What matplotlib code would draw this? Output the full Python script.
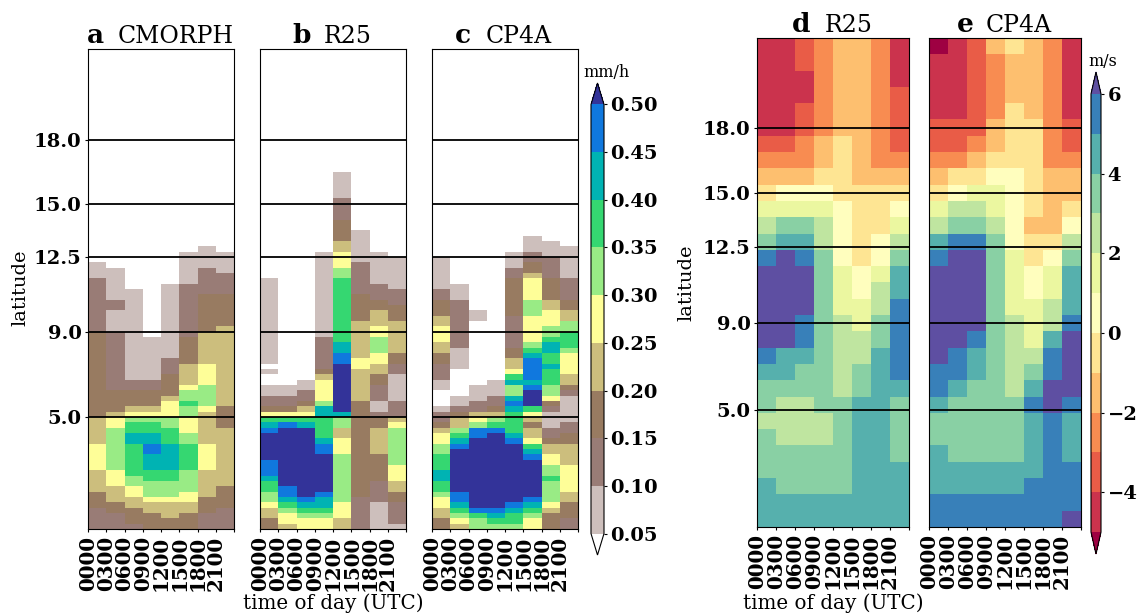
# 日変化のパネル図 (降水 a-c, 風 d-e)
import numpy as np
import matplotlib
matplotlib.use('Agg')
import matplotlib.pyplot as plt
from matplotlib.colors import BoundaryNorm

plt.rcParams['font.family'] = ['DejaVu Serif']

W, H = 1140, 613
hours = ['0000', '0300', '0600', '0900', '1200', '1500', '1800', '2100']
lat_ticks = [5.0, 9.0, 12.5, 15.0, 18.0]
rain_levels = [0.05, 0.10, 0.15, 0.20, 0.25, 0.30, 0.35, 0.40, 0.45, 0.50]
wind_levels = [-5, -4, -3, -2, -1, 0, 1, 2, 3, 4, 5, 6]
wind_ticks = [-4, -2, 0, 2, 4, 6]

# rain rate of each class (class 0 = below 0.05, class 10 = above 0.50)
class_rate = [0.02, 0.075, 0.125, 0.175, 0.225, 0.275, 0.325, 0.375, 0.425, 0.475, 0.55]

# rain: one list per time of day, (class, number of 0.25 deg rows), south to north
cmorph = [
    [(2,4),(3,3),(4,4),(5,5),(4,5),(3,16),(2,10),(1,3)],
    [(2,3),(3,2),(4,3),(5,3),(6,8),(5,2),(4,1),(3,4),(2,11),(1,4),(2,2),(1,6)],
    [(2,1),(3,3),(4,2),(5,2),(6,2),(7,6),(8,2),(7,2),(6,1),(5,1),(4,1),(3,3),(2,2),(1,17)],
    [(3,3),(4,2),(5,1),(6,3),(7,2),(8,3),(9,2),(8,2),(7,2),(6,1),(5,1),(4,1),(3,3),(2,2),(1,8)],
    [(3,2),(4,3),(5,1),(6,3),(7,2),(8,5),(7,3),(6,2),(5,3),(4,1),(3,4),(2,3),(1,14)],
    [(3,3),(4,2),(5,2),(6,4),(7,5),(6,2),(5,3),(6,2),(7,1),(6,2),(5,1),(4,4),(3,5),(2,10),(1,6)],
    [(2,3),(3,3),(4,5),(5,5),(4,6),(5,1),(6,4),(5,4),(4,6),(3,7),(2,5),(1,4)],
    [(2,4),(3,4),(4,11),(3,4),(4,15),(3,6),(2,4),(1,4)],
]
r25_rain = [
    [(3,2),(4,2),(5,1),(6,2),(7,2),(8,1),(9,3),(10,5),(9,1),(8,1),(7,1),(5,1),(3,1),(2,2),(1,2),(0,2),(1,1),(0,1),(1,16)],
    [(4,1),(5,2),(6,1),(7,1),(8,1),(9,2),(10,11),(9,1),(7,1),(5,1),(3,1),(2,2),(1,2)],
    [(5,2),(6,1),(7,1),(8,1),(9,1),(10,13),(8,1),(7,1),(5,1),(4,1),(3,1),(2,2),(1,2)],
    [(5,2),(6,1),(7,1),(8,2),(9,1),(10,7),(9,2),(8,1),(7,4),(8,2),(6,1),(5,4),(4,1),(3,1),(2,6),(1,16)],
    [(4,2),(5,3),(6,9),(5,3),(4,2),(6,2),(8,1),(10,9),(9,2),(8,2),(7,12),(6,2),(5,3),(4,2),(3,4),(2,4),(1,5)],
    [(2,6),(3,18),(4,6),(5,2),(4,7),(3,5),(2,6),(1,6)],
    [(1,5),(2,4),(3,5),(4,5),(3,2),(2,1),(1,2),(2,3),(3,2),(4,2),(5,2),(6,3),(5,2),(4,3),(3,2),(2,3),(1,6)],
    [(1,1),(2,4),(3,2),(4,2),(5,3),(6,7),(5,1),(4,1),(2,3),(1,5),(2,2),(3,2),(4,6),(3,3),(2,3),(1,6)],
]
cp4a_rain = [
    [(3,2),(4,2),(5,2),(6,1),(7,2),(8,2),(7,3),(6,2),(5,2),(4,1),(3,1),(2,2),(1,1),(0,3),(1,2),(2,3),(3,2),(4,2),(5,3),(4,2),(3,3),(2,2),(1,6)],
    [(4,1),(5,1),(6,1),(7,1),(8,1),(9,2),(10,8),(9,1),(8,1),(7,1),(6,1),(4,2),(3,1),(2,1),(1,2),(0,5),(1,4),(2,9),(1,3)],
    [(6,2),(7,1),(9,1),(10,13),(9,2),(6,1),(5,1),(4,1),(2,2),(1,3),(0,12),(1,2)],
    [(6,1),(7,1),(8,1),(9,1),(10,14),(9,1),(7,1),(6,1),(4,1),(3,1),(2,2),(1,3)],
    [(6,1),(7,2),(8,1),(9,1),(10,11),(9,1),(8,1),(7,4),(8,1),(9,1),(8,1),(6,2),(8,1),(7,1),(5,1),(4,2),(3,2),(2,6),(3,7),(2,2),(1,3)],
    [(5,2),(6,1),(7,1),(8,1),(9,1),(10,7),(9,1),(8,1),(7,1),(5,1),(4,2),(3,1),(4,1),(5,1),(7,1),(10,3),(9,1),(8,1),(9,4),(8,1),(7,1),(6,1),(5,5),(6,3),(5,4),(4,1),(3,2),(2,2),(1,3)],
    [(3,3),(4,1),(5,1),(6,4),(7,1),(6,2),(5,2),(4,2),(3,1),(2,2),(1,3),(2,1),(3,1),(5,1),(6,2),(7,3),(8,1),(7,2),(8,2),(7,1),(6,2),(5,3),(4,2),(3,4),(2,4),(1,3)],
    [(2,2),(3,3),(4,2),(5,5),(4,4),(3,2),(2,2),(1,5),(2,1),(3,1),(4,2),(5,4),(6,1),(7,3),(6,2),(4,2),(3,2),(2,4),(1,6)],
]

# wind (m/s): 0.75 deg rows, north to south, columns = time of day
r25_wind = [
    [-4.5,-4.5,-3.5,-2.5,-1.5,-1.5,-2.5,-4.5],
    [-4.5,-4.5,-3.5,-2.5,-1.5,-1.5,-2.5,-4.5],
    [-4.5,-4.5,-4.5,-2.5,-1.5,-1.5,-2.5,-4.5],
    [-4.5,-4.5,-4.5,-2.5,-1.5,-1.5,-2.5,-3.5],
    [-4.5,-4.5,-3.5,-2.5,-1.5,-1.5,-2.5,-3.5],
    [-4.5,-4.5,-3.5,-2.5,-1.5,-1.5,-2.5,-3.5],
    [-3.5,-3.5,-2.5,-1.5,-0.5,-1.5,-2.5,-3.5],
    [-2.5,-2.5,-2.5,-1.5,-0.5,-1.5,-2.5,-2.5],
    [-1.5,-1.5,-1.5,-0.5,-0.5,-1.5,-1.5,-1.5],
    [-0.5,0.5,0.5,0.5,-0.5,-0.5,-0.5,-0.5],
    [1.5,1.5,1.5,1.5,0.5,-0.5,-0.5,0.5],
    [2.5,3.5,3.5,2.5,0.5,-0.5,-0.5,1.5],
    [3.5,4.5,4.5,2.5,0.5,-0.5,0.5,2.5],
    [5.5,6.5,5.5,3.5,0.5,-0.5,0.5,3.5],
    [6.5,6.5,6.5,3.5,1.5,0.5,1.5,4.5],
    [6.5,6.5,6.5,3.5,1.5,0.5,2.5,4.5],
    [6.5,6.5,6.5,3.5,1.5,1.5,2.5,5.5],
    [6.5,6.5,5.5,3.5,2.5,1.5,3.5,5.5],
    [6.5,6.5,5.5,3.5,2.5,2.5,3.5,5.5],
    [5.5,4.5,4.5,3.5,2.5,2.5,4.5,5.5],
    [4.5,4.5,3.5,3.5,2.5,3.5,4.5,5.5],
    [3.5,3.5,3.5,3.5,2.5,3.5,4.5,4.5],
    [3.5,2.5,2.5,3.5,3.5,4.5,4.5,3.5],
    [2.5,2.5,2.5,2.5,3.5,4.5,4.5,3.5],
    [3.5,2.5,2.5,2.5,3.5,4.5,4.5,3.5],
    [3.5,3.5,3.5,3.5,3.5,4.5,4.5,3.5],
    [3.5,3.5,3.5,3.5,3.5,4.5,4.5,4.5],
    [4.5,3.5,3.5,3.5,3.5,4.5,4.5,4.5],
    [4.5,4.5,4.5,4.5,4.5,4.5,4.5,4.5],
    [4.5,4.5,4.5,4.5,4.5,4.5,4.5,4.5],
]
cp4a_wind = [
    [-5.5,-4.5,-3.5,-1.5,-0.5,-1.5,-2.5,-4.5],
    [-4.5,-4.5,-3.5,-2.5,-1.5,-1.5,-2.5,-4.5],
    [-4.5,-4.5,-3.5,-2.5,-1.5,-1.5,-2.5,-4.5],
    [-4.5,-4.5,-3.5,-2.5,-1.5,-1.5,-2.5,-4.5],
    [-4.5,-4.5,-3.5,-2.5,-0.5,-1.5,-2.5,-4.5],
    [-3.5,-3.5,-3.5,-1.5,-0.5,-0.5,-2.5,-3.5],
    [-3.5,-3.5,-2.5,-1.5,-0.5,-0.5,-2.5,-3.5],
    [-2.5,-2.5,-1.5,-0.5,-0.5,-0.5,-2.5,-2.5],
    [-1.5,-0.5,-0.5,0.5,0.5,-0.5,-1.5,-1.5],
    [-0.5,0.5,1.5,1.5,0.5,-0.5,-1.5,-1.5],
    [1.5,2.5,2.5,1.5,0.5,-0.5,-1.5,-0.5],
    [2.5,3.5,3.5,2.5,0.5,-1.5,-1.5,0.5],
    [4.5,5.5,5.5,3.5,0.5,-0.5,-0.5,2.5],
    [5.5,6.5,6.5,3.5,1.5,-0.5,0.5,3.5],
    [6.5,6.5,6.5,3.5,1.5,0.5,1.5,4.5],
    [6.5,6.5,6.5,3.5,1.5,0.5,1.5,4.5],
    [6.5,6.5,6.5,3.5,1.5,1.5,2.5,4.5],
    [6.5,6.5,6.5,3.5,2.5,1.5,2.5,5.5],
    [6.5,6.5,5.5,3.5,2.5,1.5,4.5,6.5],
    [6.5,5.5,4.5,3.5,2.5,2.5,5.5,6.5],
    [5.5,5.5,4.5,3.5,2.5,3.5,5.5,6.5],
    [5.5,4.5,3.5,3.5,2.5,4.5,6.5,6.5],
    [4.5,3.5,3.5,3.5,3.5,5.5,6.5,5.5],
    [3.5,3.5,3.5,3.5,3.5,4.5,5.5,4.5],
    [3.5,3.5,3.5,3.5,3.5,4.5,5.5,4.5],
    [4.5,3.5,3.5,3.5,3.5,4.5,5.5,4.5],
    [4.5,4.5,4.5,4.5,4.5,4.5,5.5,5.5],
    [4.5,4.5,4.5,4.5,4.5,5.5,5.5,5.5],
    [5.5,5.5,5.5,5.5,5.5,5.5,5.5,5.5],
    [5.5,5.5,5.5,5.5,5.5,5.5,5.5,6.5],
]

fig = plt.figure(figsize=(W / 100, H / 100), dpi=100)


def px_axes(x0, y0, x1, y1):
    # 画像のピクセル座標で軸を作る
    return fig.add_axes([x0 / W, 1 - y1 / H, (x1 - x0) / W, (y1 - y0) / H])


def px_text(x, y, s, **kw):
    fig.text(x / W, 1 - y / H, s, **kw)


def rain_grid(columns):
    # (class, rows) を 90 x 8 の配列に展開
    grid = np.full((90, 8), class_rate[0])
    for i, col in enumerate(columns):
        row = 0
        for cls, n in col:
            grid[row:row + n, i] = class_rate[cls]
            row += n
    return grid


def setup_axes(ax, show_lat):
    for lat in lat_ticks:
        ax.axhline(lat, color='k', lw=1.3, zorder=5)
    ax.set_xlim(0, 8)
    ax.set_xticks(range(9))
    ax.set_xticklabels(hours + [''], rotation=90, fontsize=14.3, fontweight='bold')
    ax.tick_params(length=2.5, pad=2.2)
    if show_lat:
        ax.set_yticks(lat_ticks)
        ax.set_yticklabels(['%.1f' % v for v in lat_ticks], fontsize=14, fontweight='bold')
    else:
        ax.set_yticks([])


def bold_colorbar(cb):
    cb.ax.minorticks_off()
    cb.ax.tick_params(labelsize=14, length=2.5, pad=2.2)
    for t in cb.ax.get_yticklabels():
        t.set_fontweight('bold')


# 降水のパネル
rain_cmap = plt.get_cmap('terrain_r')
rain_norm = BoundaryNorm(rain_levels, rain_cmap.N, extend='both')
rain_x = np.arange(9)
rain_y = -0.25 + 0.25 * np.arange(91)
rain_panels = [cmorph, r25_rain, cp4a_rain]
rain_boxes = [(88, 49, 234, 529), (260, 49, 406, 529), (432, 49, 578, 529)]
for k, (data, box) in enumerate(zip(rain_panels, rain_boxes)):
    ax = px_axes(*box)
    rain_mesh = ax.pcolormesh(rain_x, rain_y, rain_grid(data), cmap=rain_cmap, norm=rain_norm)
    ax.set_ylim(-0.25, 22.25)
    setup_axes(ax, k == 0)

# 風のパネル
wind_cmap = plt.get_cmap('Spectral')
wind_norm = BoundaryNorm(wind_levels, wind_cmap.N, extend='both')
wind_y = -0.375 + 0.75 * np.arange(31)
wind_panels = [r25_wind, cp4a_wind]
wind_boxes = [(757, 38, 909, 527), (929, 38, 1081, 527)]
for k, (data, box) in enumerate(zip(wind_panels, wind_boxes)):
    ax = px_axes(*box)
    wind_mesh = ax.pcolormesh(rain_x, wind_y, np.array(data)[::-1], cmap=wind_cmap, norm=wind_norm)
    ax.set_ylim(-0.375, 22.125)
    setup_axes(ax, k == 0)

# カラーバー (extend 分は軸の内側に入るので三角の先まで含める)
cax = px_axes(591, 83, 604, 555)
cb = fig.colorbar(rain_mesh, cax=cax, extend='both', ticks=rain_levels, format='%.2f')
bold_colorbar(cb)

cax2 = px_axes(1091, 72, 1101, 554)
cb2 = fig.colorbar(wind_mesh, cax=cax2, extend='both', ticks=wind_ticks)
bold_colorbar(cb2)

# タイトルなど
titles = [
    (87, 118, 43, 'a', 'CMORPH'),
    (292, 324, 43, 'b', 'R25'),
    (455, 486, 43, 'c', 'CP4A'),
    (792, 825, 32, 'd', 'R25'),
    (957, 986, 32, 'e', 'CP4A'),
]
for bx, nx, by, letter, name in titles:
    px_text(bx, by, letter, fontsize=19, fontweight='bold', va='baseline')
    px_text(nx, by, name, fontsize=17, va='baseline')

px_text(607, 77, 'mm/h', fontsize=11.5, ha='center', va='baseline')
px_text(1103, 66, 'm/s', fontsize=11.5, ha='center', va='baseline')
px_text(20, 288, 'latitude', fontsize=14, rotation=90, ha='center', va='center')
px_text(686, 283, 'latitude', fontsize=14, rotation=90, ha='center', va='center')
px_text(333, 609, 'time of day (UTC)', fontsize=14.3, ha='center', va='baseline')
px_text(833, 609, 'time of day (UTC)', fontsize=14.3, ha='center', va='baseline')

fig.savefig('out.png', dpi=100)
